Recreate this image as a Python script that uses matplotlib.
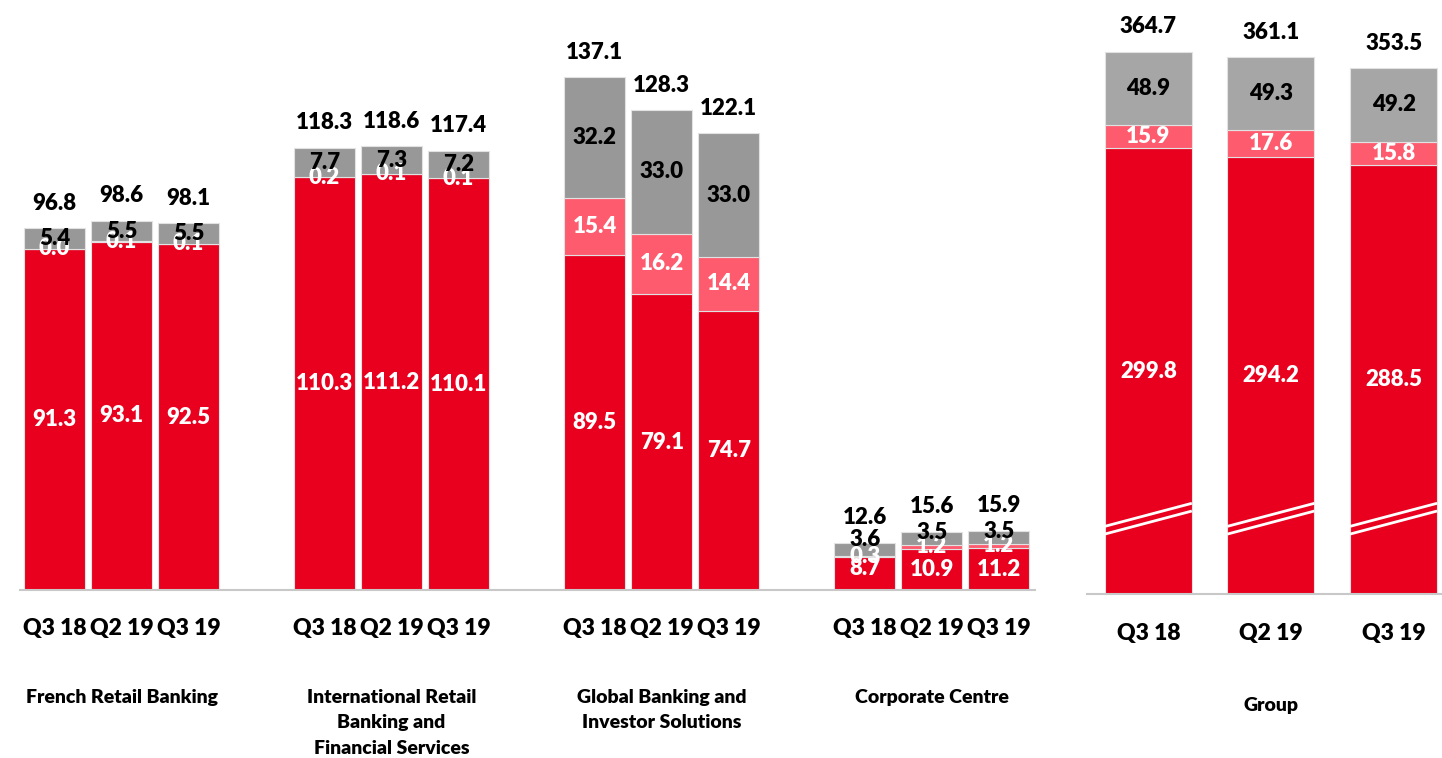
import matplotlib.pyplot as plt
import numpy as np

plt.rcParams['font.family'] = ['Lato', 'DejaVu Sans']

periods = ['Q3 18', 'Q2 19', 'Q3 19']
pillars = ['French Retail Banking', 'International Retail\nBanking and\nFinancial Services',
           'Global Banking and\nInvestor Solutions', 'Corporate Centre']

# red / pink / grey layers, one row per pillar, one column per period
red = [[91.3, 93.1, 92.5],
       [110.3, 111.2, 110.1],
       [89.5, 79.1, 74.7],
       [8.7, 10.9, 11.2]]
pink = [[0.0, 0.1, 0.1],
        [0.2, 0.1, 0.1],
        [15.4, 16.2, 14.4],
        [0.3, 1.2, 1.2]]
grey = [[5.4, 5.5, 5.5],
        [7.7, 7.3, 7.2],
        [32.2, 33.0, 33.0],
        [3.6, 3.5, 3.5]]
totals = [[96.8, 98.6, 98.1],
          [118.3, 118.6, 117.4],
          [137.1, 128.3, 122.1],
          [12.6, 15.6, 15.9]]

group_red = [299.8, 294.2, 288.5]
group_pink = [15.9, 17.6, 15.8]
group_grey = [48.9, 49.3, 49.2]
group_totals = [364.7, 361.1, 353.5]

RED = '#E8001E'
PINK = '#FF5B6E'
GREY_L = '#989898'
GREY_R = '#A6A6A6'
EDGE = '#E2E2E2'
FS = 16
FW = 'heavy'

# small label nudges (points) used in the original for the tiny Corporate Centre bars
nudge_red = {(3, 0): 4}
nudge_grey = {(3, 0): 7, (3, 1): 4, (3, 2): 4}

W, H = 1442, 758
fig = plt.figure(figsize=(W / 100, H / 100), dpi=100)

# ---------- left panel ----------
ax = fig.add_axes([20 / W, (H - 590) / H, 1015 / W, 570 / H])
gap = 4.03
xs_all, labs_all = [], []
for i in range(4):
    xs = i * gap + np.arange(3)
    r = np.array(red[i]); p = np.array(pink[i]); g = np.array(grey[i])
    ax.bar(xs, r, width=0.91, color=RED, edgecolor=EDGE, linewidth=0.8)
    ax.bar(xs, p, width=0.91, bottom=r, color=PINK, edgecolor=EDGE, linewidth=0.8)
    ax.bar(xs, g, width=0.91, bottom=r + p, color=GREY_L, edgecolor=EDGE, linewidth=0.8)
    for j in range(3):
        ax.annotate(f'{r[j]:.1f}', (xs[j], r[j] / 2), xytext=(0, nudge_red.get((i, j), 0)),
                    textcoords='offset points', ha='center', va='center',
                    color='white', fontsize=FS, fontweight=FW)
        ax.text(xs[j], r[j] + p[j] / 2, f'{p[j]:.1f}', ha='center', va='center',
                color='white', fontsize=FS, fontweight=FW)
        ax.annotate(f'{g[j]:.1f}', (xs[j], r[j] + p[j] + g[j] / 2),
                    xytext=(0, nudge_grey.get((i, j), 0)), textcoords='offset points',
                    ha='center', va='center', color='black', fontsize=FS, fontweight=FW)
        ax.annotate(f'{totals[i][j]:.1f}', (xs[j], r[j] + p[j] + g[j]),
                    xytext=(0, 18), textcoords='offset points', ha='center', va='center',
                    fontsize=FS, fontweight=FW)
    ax.text(xs[1], -0.173, pillars[i], transform=ax.get_xaxis_transform(),
            ha='center', va='top', fontsize=14, fontweight=FW, linespacing=1.62)
    xs_all += list(xs)
    labs_all += periods

ax.set_xticks(xs_all)
ax.set_xticklabels(labs_all, fontsize=FS + 0.5, fontweight=FW)
ax.tick_params(axis='x', length=0, pad=20)
ax.set_xlim(-0.515, 14.63)
ax.set_ylim(0, 570 / 3.74)
ax.set_yticks([])
for s in ['top', 'right', 'left']:
    ax.spines[s].set_visible(False)
ax.spines['bottom'].set_color('#C8C8C8')
ax.spines['bottom'].set_linewidth(1.5)

# ---------- right panel: Group ----------
ax2 = fig.add_axes([1087 / W, (H - 594) / H, 355 / W, 574 / H])
xs = np.arange(3)
r = np.array(group_red); p = np.array(group_pink); g = np.array(group_grey)
bw = 0.71
ax2.bar(xs, r, width=bw, color=RED, edgecolor=EDGE, linewidth=0.8)
ax2.bar(xs, p, width=bw, bottom=r, color=PINK, edgecolor=EDGE, linewidth=0.8)
ax2.bar(xs, g, width=bw, bottom=r + p, color=GREY_R, edgecolor=EDGE, linewidth=0.8)
for j in range(3):
    ax2.text(xs[j], r[j] / 2, f'{r[j]:.1f}', ha='center', va='center',
             color='white', fontsize=FS, fontweight=FW)
    ax2.text(xs[j], r[j] + p[j] / 2, f'{p[j]:.1f}', ha='center', va='center',
             color='white', fontsize=FS, fontweight=FW)
    ax2.text(xs[j], r[j] + p[j] + g[j] / 2, f'{g[j]:.1f}', ha='center', va='center',
             color='black', fontsize=FS, fontweight=FW)
    ax2.annotate(f'{group_totals[j]:.1f}', (xs[j], r[j] + p[j] + g[j]),
                 xytext=(0, 18), textcoords='offset points', ha='center', va='center',
                 fontsize=FS, fontweight=FW)
    # axis-break slashes
    x0, x1 = xs[j] - bw / 2, xs[j] + bw / 2
    for yb in (45.5, 40.3):
        ax2.plot([x0, x1], [yb, yb + 15.5], color='white', lw=2, solid_capstyle='butt')

ax2.text(1, -0.18, 'Group', transform=ax2.get_xaxis_transform(),
         ha='center', va='top', fontsize=14, fontweight=FW)
ax2.set_xticks(xs)
ax2.set_xticklabels(periods, fontsize=FS + 0.5, fontweight=FW)
ax2.tick_params(axis='x', length=0, pad=21)
ax2.set_xlim(-0.50, 2.395)
ax2.set_ylim(0, 574 / 1.487)
ax2.set_yticks([])
for s in ['top', 'right', 'left']:
    ax2.spines[s].set_visible(False)
ax2.spines['bottom'].set_color('#C8C8C8')
ax2.spines['bottom'].set_linewidth(1.5)

fig.savefig('out.png', dpi=100)
